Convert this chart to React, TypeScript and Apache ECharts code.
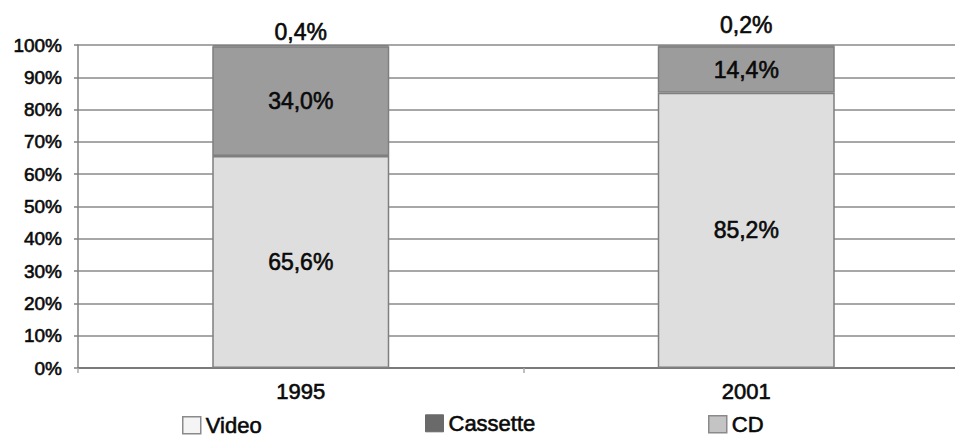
import React, { useEffect, useRef } from "react";
import * as echarts from "echarts";

const categories = ["1995", "2001"];
const videoValues = [65.6, 85.2];
const cassetteValues = [34.0, 14.4];
const cdValues = [0.4, 0.2];
const cdLabelDistances = [1, 9];
const yTicks = { min: 0, max: 100, interval: 10 };

const FONT = "'Liberation Sans', Arial, Helvetica, sans-serif";
const TXT = "#0a0a0a";
const thick = { textBorderColor: "#0a0a0a", textBorderWidth: 0.6 };

const fmt = (v: number) => v.toFixed(1).replace(".", ",") + "%";

export default function App() {
  const ref = useRef<HTMLDivElement>(null);
  useEffect(() => {
    if (!ref.current) return;
    const chart = echarts.init(ref.current, null, { renderer: "svg" });
    const barStyleCommon = { borderColor: "#7f7f7f", borderWidth: 1.5 };
    const insideLabel = {
      show: true,
      position: "inside",
      fontSize: 23,
      fontFamily: FONT,
      color: TXT,
      ...thick,
      formatter: (p: any) => fmt(p.value),
    };
    const legendBase = {
      selectedMode: false,
      padding: 0,
      icon: "rect",
      itemWidth: 18,
      itemHeight: 17,
      textStyle: { fontSize: 22, fontFamily: FONT, color: TXT, lineHeight: 19, ...thick },
    };
    chart.setOption({
      animation: false,
      backgroundColor: "#ffffff",
      textStyle: { fontFamily: FONT },
      grid: { left: 78, top: 45, width: 891, height: 323, containLabel: false },
      legend: [
        {
          ...legendBase,
          left: 182,
          top: 414,
          data: [{ name: "Video", itemStyle: { color: "#f4f4f4", borderColor: "#8a8a8a", borderWidth: 1.5 } }],
        },
        {
          ...legendBase,
          left: 425,
          top: 412,
          data: [{ name: "Cassette", itemStyle: { color: "#6a6a6a", borderColor: "#6a6a6a", borderWidth: 1 } }],
        },
        {
          ...legendBase,
          left: 708,
          top: 413,
          data: [{ name: "CD", itemStyle: { color: "#c4c4c4", borderColor: "#8a8a8a", borderWidth: 1.5 } }],
        },
      ],
      xAxis: {
        type: "category",
        data: categories,
        axisLine: { lineStyle: { color: "#7a7a7a", width: 2 } },
        axisTick: { show: true, length: 5, lineStyle: { color: "#aaaaaa", width: 1.5 } },
        axisLabel: { fontSize: 22, margin: 12, color: TXT, fontFamily: FONT, ...thick },
      },
      yAxis: {
        type: "value",
        min: yTicks.min,
        max: yTicks.max,
        interval: yTicks.interval,
        axisLine: { show: true, lineStyle: { color: "#808080", width: 1.5 } },
        axisTick: { show: true, length: 4, lineStyle: { color: "#808080", width: 1.5 } },
        axisLabel: { formatter: "{value}%", fontSize: 19, margin: 16, color: TXT, fontFamily: FONT, ...thick },
        splitLine: { show: true, lineStyle: { color: "#8a8a8a", width: 1.5 } },
      },
      series: [
        {
          name: "Video",
          type: "bar",
          stack: "total",
          barWidth: 177,
          data: videoValues,
          itemStyle: { color: "#dedede", ...barStyleCommon },
          label: insideLabel,
        },
        {
          name: "Cassette",
          type: "bar",
          stack: "total",
          barWidth: 177,
          data: cassetteValues,
          itemStyle: { color: "#9c9c9c", ...barStyleCommon },
          label: insideLabel,
        },
        {
          name: "CD",
          type: "bar",
          stack: "total",
          barWidth: 177,
          data: cdValues.map((v, i) => ({ value: v, label: { distance: cdLabelDistances[i] } })),
          itemStyle: { color: "#c4c4c4", ...barStyleCommon },
          label: {
            show: true,
            position: "top",
            fontSize: 23,
            fontFamily: FONT,
            color: TXT,
            ...thick,
            formatter: (p: any) => fmt(p.value),
          },
        },
      ],
    });
    return () => chart.dispose();
  }, []);
  return (
    <div
      style={{ position: "absolute", left: 0, top: 0, width: 955, height: 437, overflow: "hidden", background: "#fff" }}
    >
      <div ref={ref} style={{ position: "absolute", left: 0, top: 0, width: 985, height: 437 }} />
    </div>
  );
}
